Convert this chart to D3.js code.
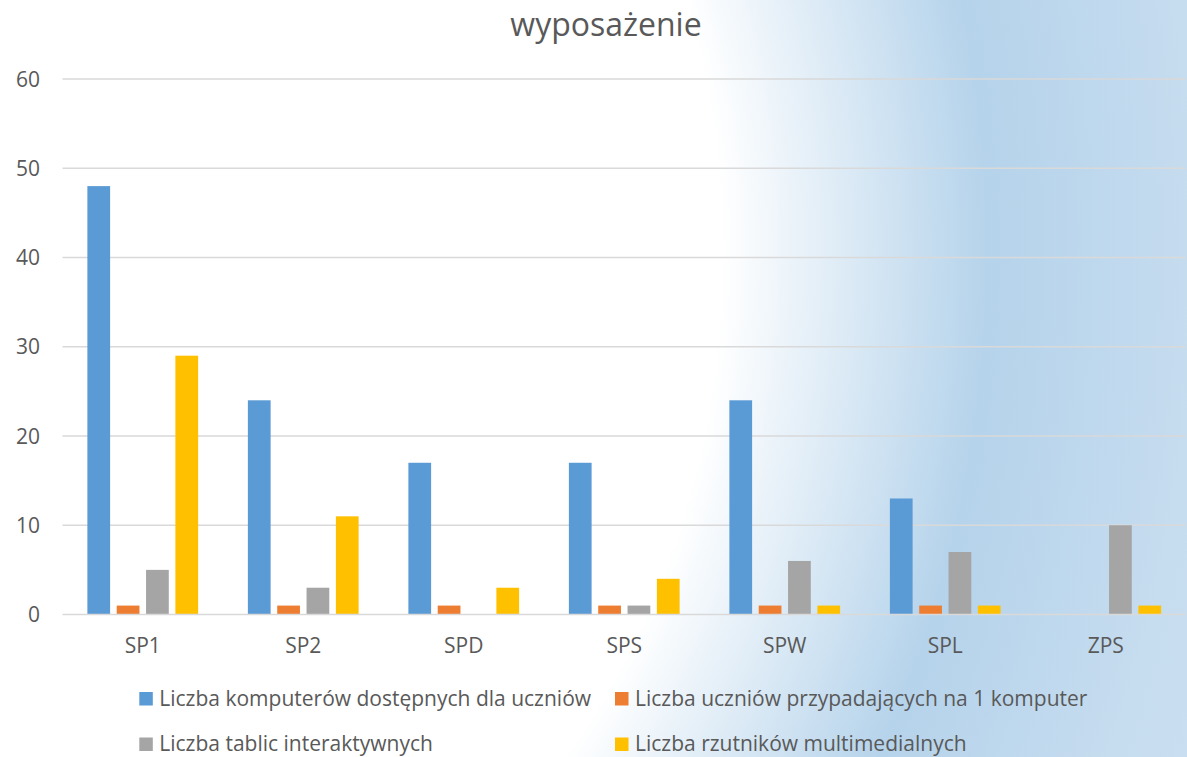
<!DOCTYPE html>
<html><head><meta charset="utf-8">
<script src="https://cdn.jsdelivr.net/npm/d3@7"></script>
<style>html,body{margin:0;padding:0;background:#fff;}svg{display:block;}</style>
</head><body>
<script>
const categories = ["SP1","SP2","SPD","SPS","SPW","SPL","ZPS"];
const seriesNames = [
  "Liczba komputerów dostępnych dla uczniów",
  "Liczba uczniów przypadających na 1 komputer",
  "Liczba tablic interaktywnych",
  "Liczba rzutników multimedialnych"
];
const komputery = [48,24,17,17,24,13,0];
const uczniowNaKomputer = [1,1,1,1,1,1,0];
const tablice = [5,3,0,1,6,7,10];
const rzutniki = [29,11,3,4,1,1,1];
const seriesValues = [komputery, uczniowNaKomputer, tablice, rzutniki];
const colors = ["#5b9bd5","#ed7d31","#a5a5a5","#ffc000"];
const yTicks = [0,10,20,30,40,50,60];
const title = "wyposażenie";

const W = 1187, H = 757;
const FONT = "'Open Sans', Lato, sans-serif";
const svg = d3.select("body").append("svg").attr("width", W).attr("height", H);

const defs = svg.append("defs");
const grad = defs.append("radialGradient").attr("id","bg")
  .attr("gradientUnits","userSpaceOnUse")
  .attr("cx",0).attr("cy",252).attr("r",1300).attr("fx",0).attr("fy",252)
  .attr("gradientTransform","translate(0,252) scale(1,1.124) translate(0,-252)");
[[0,"#ffffff"],[0.555,"#ffffff"],[0.76,"#b5d3eb"],[0.92,"#c6dcef"],[1,"#cadff1"]]
  .forEach(([o,c]) => grad.append("stop").attr("offset",o).attr("stop-color",c));
svg.append("rect").attr("width",W).attr("height",H).attr("fill","url(#bg)");

const plot = {left:62.5, right:1186, top:79, bottom:614.5};
const x0 = d3.scaleBand().domain(categories).range([plot.left, plot.right]).padding(0);
const groupPad = x0.bandwidth()*0.155;
const x1 = d3.scaleBand().domain(d3.range(seriesNames.length))
  .range([groupPad, x0.bandwidth()-groupPad]).paddingInner(0.225).paddingOuter(0);
const y = d3.scaleLinear().domain([0,60]).range([plot.bottom, plot.top]);

// gridlines
svg.append("g").selectAll("line").data(yTicks.filter(t=>t>0)).join("line")
  .attr("x1",plot.left).attr("x2",plot.right)
  .attr("y1",d=>y(d)).attr("y2",d=>y(d))
  .attr("stroke","#d9d9d9").attr("stroke-width",1.5);

// y labels
svg.append("g").selectAll("text").data(yTicks).join("text")
  .attr("x",40).attr("y",d=>y(d)+7.5).attr("text-anchor","end")
  .attr("font-family",FONT).attr("font-size",21).attr("fill","#595959")
  .text(d=>d);

// bars
const gcat = svg.append("g").selectAll("g").data(categories).join("g")
  .attr("transform",c=>`translate(${x0(c)},0)`);
gcat.selectAll("rect").data((c,i)=>seriesValues.map((s,k)=>({k, v:s[i]})).filter(d=>d.v>0)).join("rect")
  .attr("x",d=>x1(d.k)).attr("width",x1.bandwidth())
  .attr("y",d=>y(d.v)).attr("height",d=>y(0)-y(d.v))
  .attr("fill",d=>colors[d.k]);

// baseline
svg.append("line").attr("x1",plot.left).attr("x2",plot.right)
  .attr("y1",y(0)).attr("y2",y(0)).attr("stroke","#d9d9d9").attr("stroke-width",1.5);

// category labels
svg.append("g").selectAll("text").data(categories).join("text")
  .attr("x",c=>x0(c)+x0.bandwidth()/2).attr("y",653).attr("text-anchor","middle")
  .attr("font-family",FONT).attr("font-size",21).attr("fill","#595959")
  .text(c=>c);

// title
svg.append("text").attr("x",606).attr("y",36).attr("text-anchor","middle")
  .attr("font-family",FONT).attr("font-size",32).attr("fill","#595959").text(title);

// legend
const legPos = [[139.3,692],[615,692],[139.3,737.5],[615,737.5]];
const lg = svg.append("g").selectAll("g").data(seriesNames).join("g")
  .attr("transform",(d,i)=>`translate(${legPos[i][0]},${legPos[i][1]})`);
lg.append("rect").attr("width",13.5).attr("height",13.5).attr("fill",(d,i)=>colors[i]);
lg.append("text").attr("x",20).attr("y",13.7)
  .attr("font-family",FONT).attr("font-size",21).attr("fill","#595959").text(d=>d);
</script>
</body></html>
